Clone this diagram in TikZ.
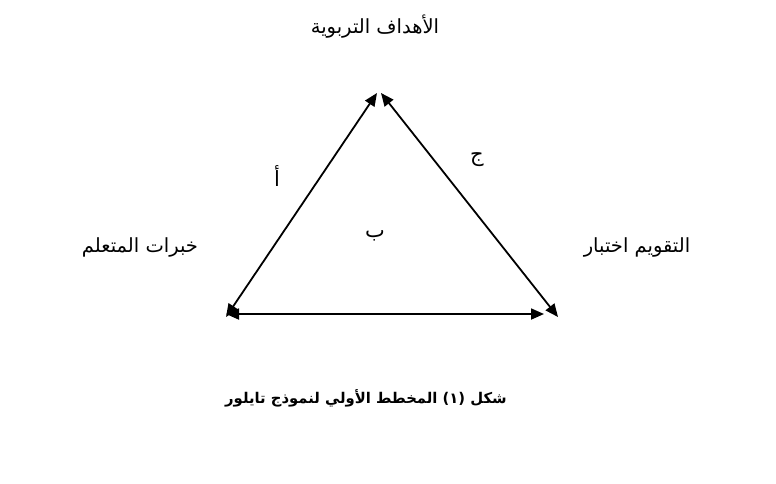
\documentclass[tikz,border=0pt]{standalone}
\usepackage{fontspec}
\usetikzlibrary{arrows.meta}
\TeXXeTstate=1
\newfontfamily\arabicfont[Script=Arabic]{DejaVu Sans}
\begin{document}
\begin{tikzpicture}[x=1pt,y=-1pt,
  lbl/.style={font=\arabicfont\fontsize{19.5}{22}\selectfont, inner sep=0pt},
  letter/.style={font=\arabicfont\fontsize{21}{22}\selectfont, inner sep=0pt},
  captext/.style={font=\arabicfont\bfseries\fontsize{14.8}{18}\selectfont, inner sep=0pt},
  arr/.style={line width=1.8pt, {Triangle[length=13pt,width=11pt]}-{Triangle[length=13pt,width=11pt]}}]
\useasboundingbox (0,0) rectangle (776,483);
\coordinate (lt) at (377,93);
\coordinate (rt) at (381,93);
\coordinate (lb) at (226,317);
\coordinate (rb) at (558,317);
\coordinate (bl) at (226,314);
\coordinate (br) at (544,314);
\draw[arr] (lb) -- (lt);
\draw[arr] (rt) -- (rb);
\draw[arr] (bl) -- (br);
\node[lbl] (top) at (375,27) {\beginR الأهداف التربوية\endR};
\node[lbl] (left) at (140,247) {\beginR خبرات المتعلم\endR};
\node[lbl] (right) at (637,247) {\beginR التقويم اختبار\endR};
\node[letter] (a) at (277,176) {\beginR أ\endR};
\node[letter] (b) at (375,236) {\beginR ب\endR};
\node[letter] (c) at (477,160) {\beginR ج\endR};
\node[captext] (caption) at (366,398) {\beginR شكل (١) المخطط الأولي لنموذج تايلور\endR};
\end{tikzpicture}
\end{document}
